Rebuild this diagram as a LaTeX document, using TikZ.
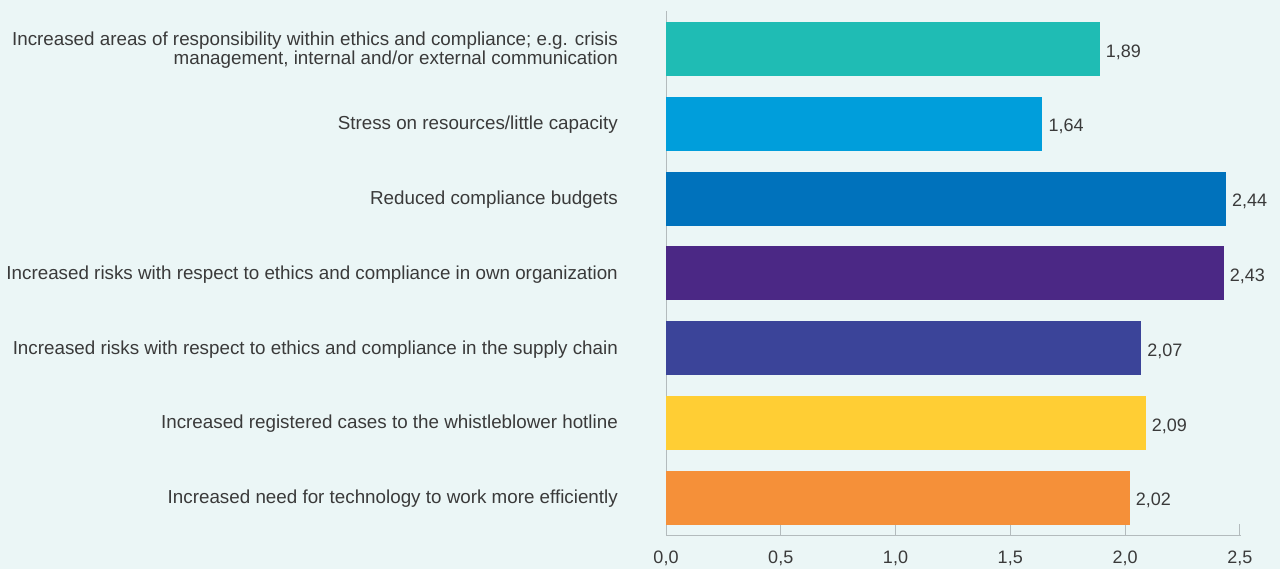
\documentclass[tikz,border=0pt]{standalone}
\usepackage{fontspec}
\setmainfont{Liberation Sans}
\usetikzlibrary{calc}

\definecolor{bgmint}{HTML}{EBF6F6}
\definecolor{barTeal}{HTML}{1FBCB4}
\definecolor{barCyan}{HTML}{009EDB}
\definecolor{barBlue}{HTML}{0072BC}
\definecolor{barPurple}{HTML}{4B2885}
\definecolor{barIndigo}{HTML}{3B4499}
\definecolor{barYellow}{HTML}{FFCE34}
\definecolor{barOrange}{HTML}{F59039}
\definecolor{txtgrey}{HTML}{3A3A3A}
\definecolor{axgrey}{HTML}{B3BBBD}

\tikzset{
  catlabel/.style={anchor=east, align=right, inner sep=0pt, text=txtgrey,
    font=\fontsize{18.8}{19}\selectfont},
  vallabel/.style={anchor=west, inner sep=0pt, xshift=6pt, text=txtgrey,
    font=\fontsize{18}{19}\selectfont},
  ticklabel/.style={inner sep=0pt, text=txtgrey, font=\fontsize{18}{19}\selectfont},
  axisline/.style={draw=axgrey, line width=1pt}
}

\begin{document}
\begin{tikzpicture}[x=1pt, y=-1pt]
\fill[bgmint] (0,0) rectangle (1280,569);
\useasboundingbox (0,0) rectangle (1280,569);

% axes
\coordinate (origin) at (666,535);
\coordinate (top) at (666,11);
\coordinate (end) at (1241,535);
\draw[axisline] (top) -- (origin) -- (end);
\foreach \t/\tl in {0/{0,0},1/{0,5},2/{1,0},3/{1,5},4/{2,0},5/{2,5}}
{
  \coordinate (tick\t) at ($(origin)+(114.75*\t,0)$);
  \draw[axisline] (tick\t) -- ++(0,-11);
  \node[ticklabel] (tl\t) at ($(tick\t)+(0,23)$) {\tl};
}

% bars
\foreach \val/\lbl/\col/\txt [count=\i] in {
  1.89/{1,89}/barTeal/{Increased areas of responsibility within ethics and compliance; e.g. crisis\\management, internal and/or external communication},
  1.64/{1,64}/barCyan/{Stress on resources/little capacity},
  2.44/{2,44}/barBlue/{Reduced compliance budgets},
  2.43/{2,43}/barPurple/{Increased risks with respect to ethics and compliance in own organization},
  2.07/{2,07}/barIndigo/{Increased risks with respect to ethics and compliance in the supply chain},
  2.09/{2,09}/barYellow/{Increased registered cases to the whistleblower hotline},
  2.02/{2,02}/barOrange/{Increased need for technology to work more efficiently}}
{
  \pgfmathsetmacro\yc{49+74.8*(\i-1)}
  \fill[\col] (666,\yc-27) rectangle ({666+229.5*\val},\yc+27);
  \node[catlabel] (cat\i) at (618,\yc+1) {\txt};
  \node[vallabel] (val\i) at ({666+229.5*\val},\yc+3) {\lbl};
}
\end{tikzpicture}
\end{document}
